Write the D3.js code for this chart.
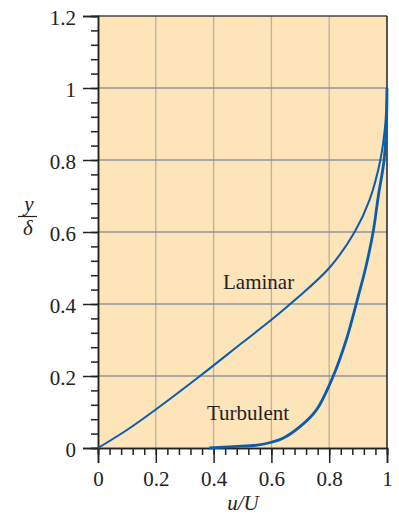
<!DOCTYPE html>
<html lang="en">
<head>
  <meta charset="UTF-8">
  <title>Boundary layer profiles</title>
  <script src="https://d3js.org/d3.v7.min.js"></script>
  <style>
    body { margin: 0; background: #fff; }
    svg { display: block; }
  </style>
</head>
<body>
  <div id="chart"></div>
  <script>
    // data: u/U (x) vs y/delta (y)
    const laminarU = [0, 0.1, 0.2, 0.353, 0.5, 0.6, 0.681, 0.8, 0.888, 0.94, 0.977, 0.994, 1];
    const laminarY = [0, 0.05, 0.107, 0.2, 0.293, 0.356, 0.411, 0.5, 0.6, 0.69, 0.8, 0.9, 1];
    const turbU = [0.385, 0.47, 0.55, 0.6, 0.64, 0.7, 0.756, 0.814, 0.859, 0.897, 0.926, 0.952, 0.97, 0.99, 0.998, 1];
    const turbY = [0, 0.004, 0.008, 0.016, 0.027, 0.06, 0.106, 0.2, 0.3, 0.411, 0.5, 0.6, 0.7, 0.8, 0.9, 1];
    const xTicks = [0, 0.2, 0.4, 0.6, 0.8, 1];
    const yTicks = [0, 0.2, 0.4, 0.6, 0.8, 1, 1.2];

    const width = 399, height = 516;
    const plotL = 98, plotR = 387, plotT = 16, plotB = 448;
    const font = "'Liberation Serif', 'Times New Roman', serif";

    const svg = d3.select("#chart").append("svg")
      .attr("width", width)
      .attr("height", height);

    const x = d3.scaleLinear().domain([0, 1]).range([plotL, plotR]);
    const y = d3.scaleLinear().domain([0, 1.2]).range([plotB, plotT]);

    // plot background
    svg.append("rect")
      .attr("x", plotL).attr("y", plotT)
      .attr("width", plotR - plotL).attr("height", plotB - plotT)
      .attr("fill", "#fde4b9");

    // grid
    svg.append("g").selectAll("line")
      .data(xTicks.slice(1, -1))
      .join("line")
      .attr("x1", d => x(d)).attr("x2", d => x(d))
      .attr("y1", plotT).attr("y2", plotB)
      .attr("stroke", "#bab1a4").attr("stroke-width", 1.3);
    svg.append("g").selectAll("line")
      .data(yTicks.slice(1, -1))
      .join("line")
      .attr("x1", plotL).attr("x2", plotR)
      .attr("y1", d => y(d)).attr("y2", d => y(d))
      .attr("stroke", "#8d949c").attr("stroke-width", 1.3);

    // frame: top and right
    svg.append("line").attr("x1", plotL).attr("x2", plotR).attr("y1", plotT).attr("y2", plotT)
      .attr("stroke", "#444").attr("stroke-width", 1.3);
    svg.append("line").attr("x1", plotR).attr("x2", plotR).attr("y1", plotT).attr("y2", plotB)
      .attr("stroke", "#222").attr("stroke-width", 1.5);

    // axes with minor ticks
    const xMinor = d3.range(0, 26).map(i => i * 0.04);
    const yMinor = d3.range(0, 31).map(i => i * 0.04);

    const xAxis = svg.append("g").attr("transform", `translate(0,${plotB})`);
    xAxis.call(d3.axisBottom(x).tickValues(xMinor).tickSize(7).tickFormat(""));
    xAxis.append("g").call(d3.axisBottom(x).tickValues(xTicks).tickSize(15).tickFormat(d3.format("")));
    xAxis.selectAll(".domain").attr("stroke", "#222").attr("stroke-width", 1.5);
    xAxis.selectAll("line").attr("stroke", "#222").attr("stroke-width", 1.5);
    xAxis.selectAll("text")
      .attr("font-family", font).attr("font-size", 21).attr("fill", "#222")
      .attr("y", 38).attr("dy", 0);

    const yAxis = svg.append("g").attr("transform", `translate(${plotL},0)`);
    yAxis.call(d3.axisLeft(y).tickValues(yMinor).tickSize(7).tickFormat(""));
    yAxis.append("g").call(d3.axisLeft(y).tickValues(yTicks).tickSize(15).tickFormat(d3.format("")));
    yAxis.selectAll(".domain").attr("stroke", "#222").attr("stroke-width", 1.5);
    yAxis.selectAll("line").attr("stroke", "#222").attr("stroke-width", 1.5);
    yAxis.selectAll("text")
      .attr("font-family", font).attr("font-size", 21).attr("fill", "#222")
      .attr("x", -22).attr("dy", "0.42em");

    // curves
    const line = d3.line()
      .x(d => x(d[0]))
      .y(d => y(d[1]))
      .curve(d3.curveCatmullRom.alpha(0.5));

    svg.append("path")
      .datum(d3.zip(laminarU, laminarY))
      .attr("d", line)
      .attr("fill", "none")
      .attr("stroke", "#0b5cab")
      .attr("stroke-width", 2);

    svg.append("path")
      .datum(d3.zip(turbU, turbY))
      .attr("d", line)
      .attr("fill", "none")
      .attr("stroke", "#0b5cab")
      .attr("stroke-width", 2.8);

    // curve labels
    svg.append("text").attr("x", 223).attr("y", 289)
      .attr("font-family", font).attr("font-size", 21).attr("fill", "#222")
      .text("Laminar");
    svg.append("text").attr("x", 207).attr("y", 420)
      .attr("font-family", font).attr("font-size", 21).attr("fill", "#222")
      .text("Turbulent");

    // axis titles
    svg.append("text").attr("x", 243).attr("y", 510)
      .attr("text-anchor", "middle")
      .attr("font-family", font).attr("font-size", 21).attr("font-style", "italic").attr("fill", "#222")
      .text("u/U");

    svg.append("text").attr("x", 29).attr("y", 211)
      .attr("text-anchor", "middle")
      .attr("font-family", font).attr("font-size", 21).attr("font-style", "italic").attr("fill", "#222")
      .text("y");
    svg.append("line").attr("x1", 18).attr("x2", 37).attr("y1", 216.5).attr("y2", 216.5)
      .attr("stroke", "#222").attr("stroke-width", 1.2);
    svg.append("text").attr("x", 28).attr("y", 235)
      .attr("text-anchor", "middle")
      .attr("font-family", font).attr("font-size", 21).attr("font-style", "italic").attr("fill", "#222")
      .text("δ");
  </script>
</body>
</html>
